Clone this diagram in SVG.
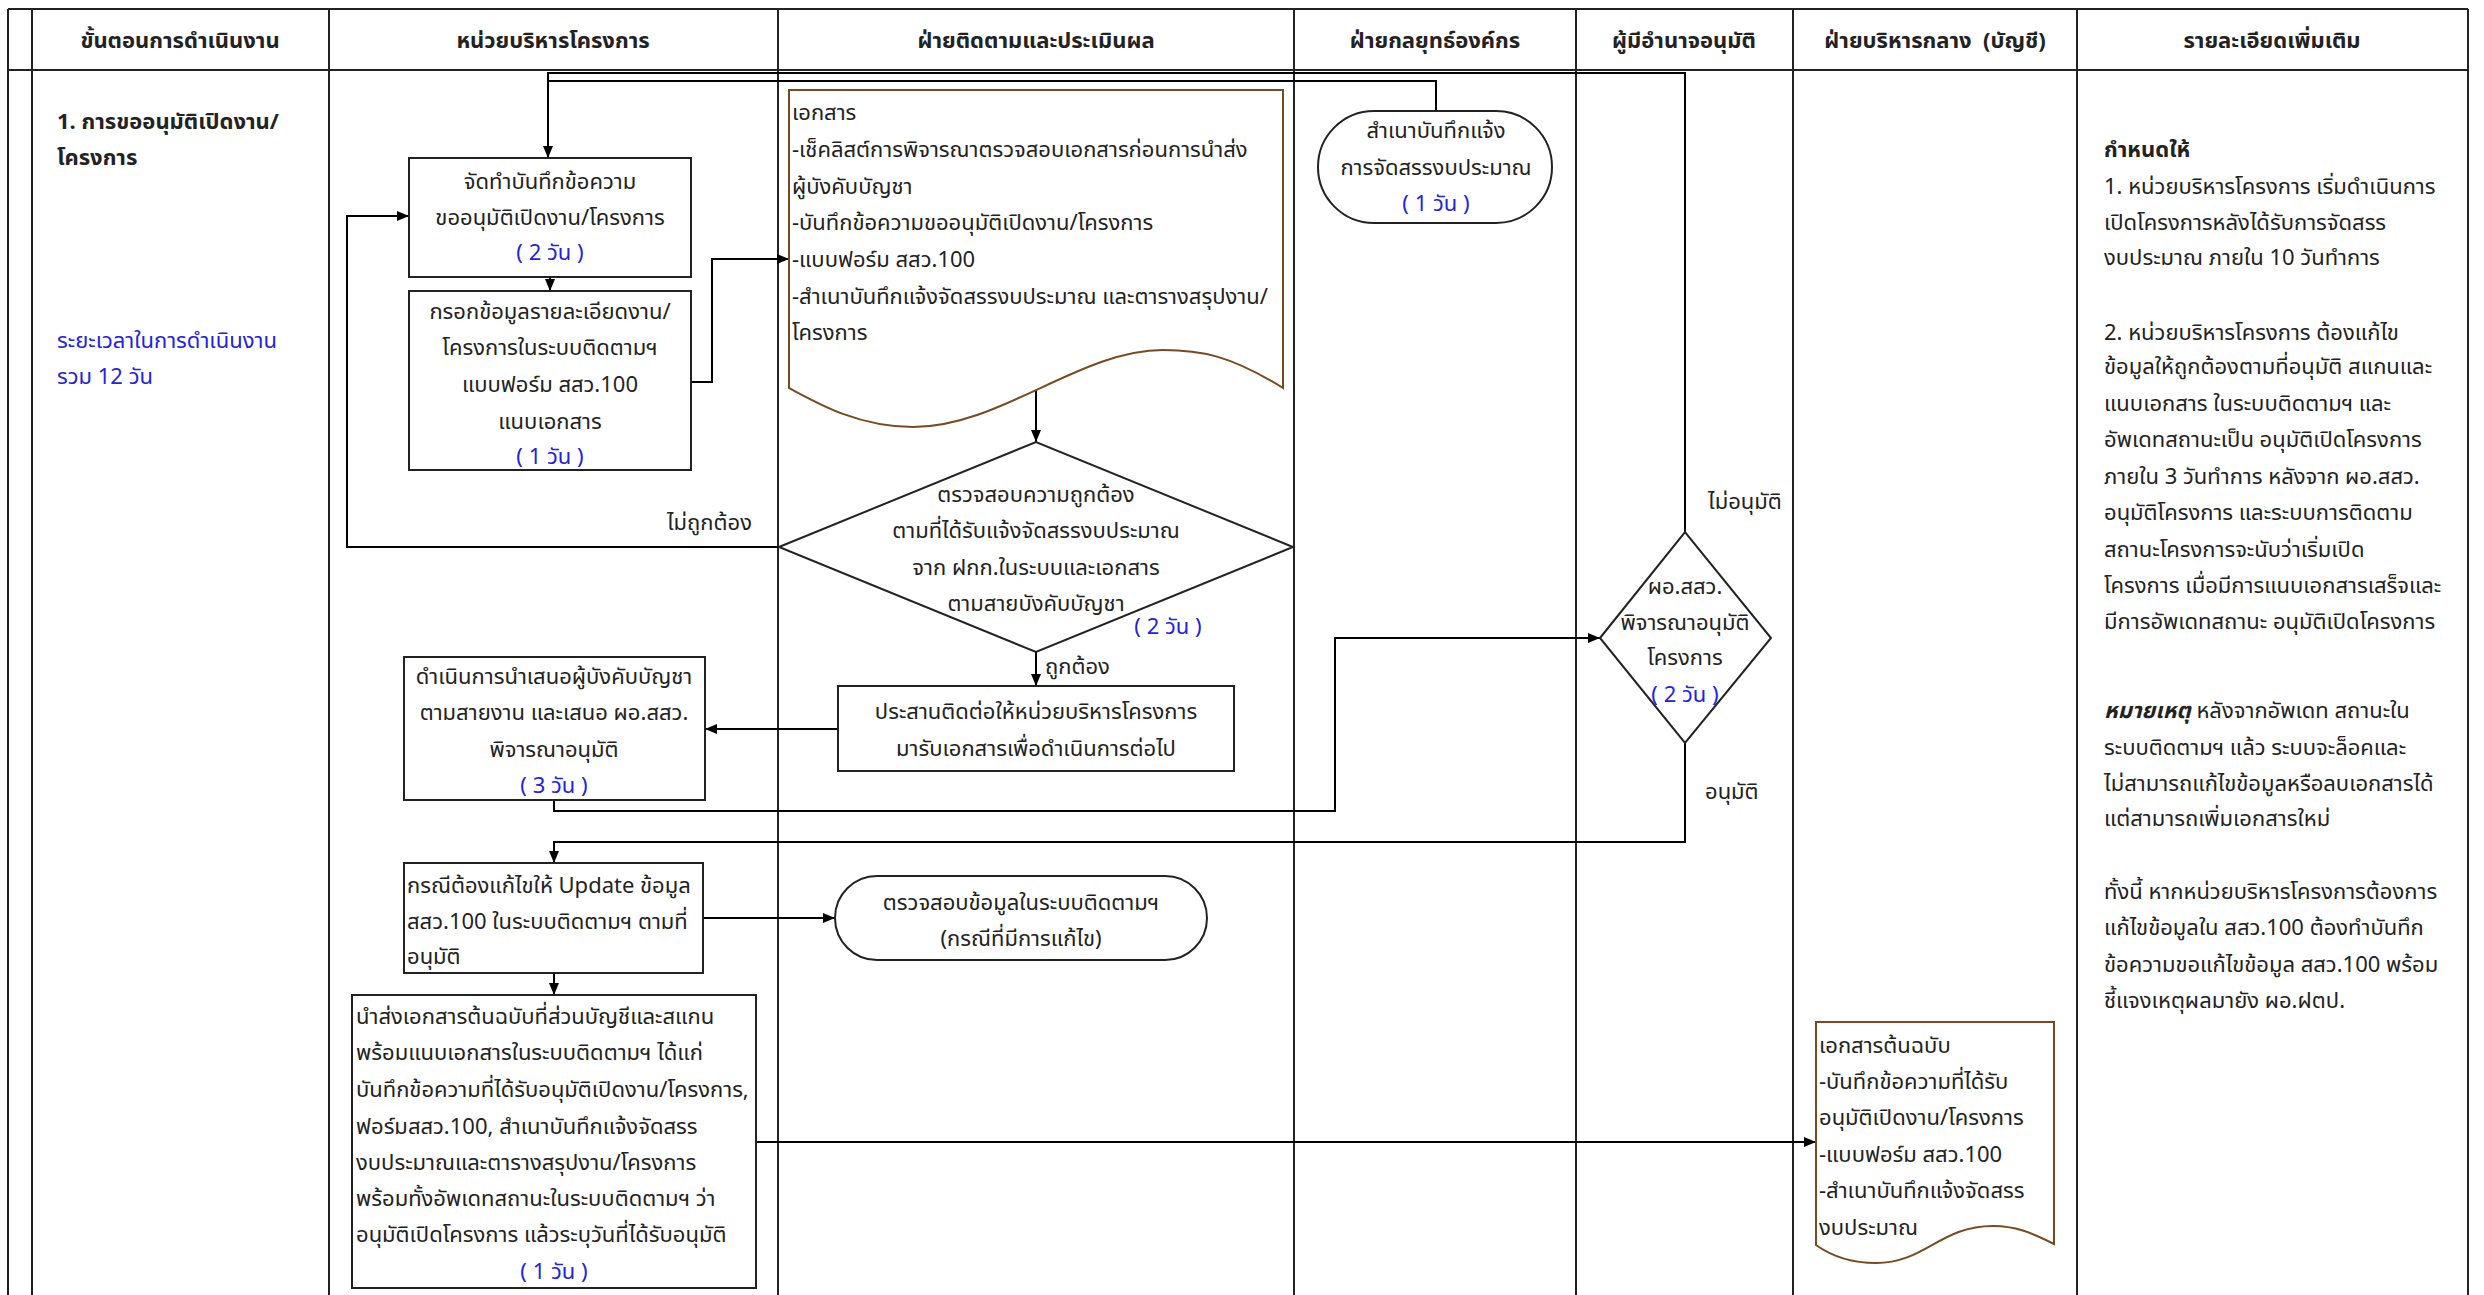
<svg xmlns="http://www.w3.org/2000/svg" width="2484" height="1295" viewBox="0 0 2484 1295">
<style>
.lane{stroke:#222;stroke-width:2;fill:none}
.box{fill:#fff;stroke:#222;stroke-width:2}
.doc{fill:#fff;stroke:#7a4a1f;stroke-width:2}
.conn{stroke:#000;stroke-width:2;fill:none}
text{font-family:"Tahoma","Noto Sans Thai","Loma","Garuda","Noto Sans","DejaVu Sans",sans-serif;font-size:22px;fill:#222}
.c{text-anchor:middle}
.b{font-weight:bold}
.blue{fill:#2323dd}
.hd{font-size:22px;font-weight:bold}
.rt{font-size:22px}
</style>
<defs>
<marker id="arr" markerUnits="userSpaceOnUse" markerWidth="12" markerHeight="10" refX="12" refY="5" orient="auto">
<path d="M0,0 L12,5 L0,10 Z" fill="#000"/>
</marker>
</defs>
<rect width="2484" height="1295" fill="#fff"/>
<g id="table">
<line class="lane" x1="8" y1="9" x2="8" y2="1295"/>
<line class="lane" x1="32" y1="9" x2="32" y2="1295"/>
<line class="lane" x1="8" y1="9" x2="2468" y2="9"/>
<line class="lane" x1="8" y1="70" x2="2468" y2="70"/>
<line class="lane" x1="329" y1="9" x2="329" y2="1295"/>
<line class="lane" x1="778" y1="9" x2="778" y2="1295"/>
<line class="lane" x1="1294" y1="9" x2="1294" y2="1295"/>
<line class="lane" x1="1576" y1="9" x2="1576" y2="1295"/>
<line class="lane" x1="1793" y1="9" x2="1793" y2="1295"/>
<line class="lane" x1="2077" y1="9" x2="2077" y2="1295"/>
<line class="lane" x1="2468" y1="9" x2="2468" y2="1295"/>
<text class="hd c" x="180" y="48">ขั้นตอนการดำเนินงาน</text>
<text class="hd c" x="553" y="48">หน่วยบริหารโครงการ</text>
<text class="hd c" x="1036" y="48">ฝ่ายติดตามและประเมินผล</text>
<text class="hd c" x="1435" y="48">ฝ่ายกลยุทธ์องค์กร</text>
<text class="hd c" x="1684" y="48">ผู้มีอำนาจอนุมัติ</text>
<text class="hd c" x="1935" y="48">ฝ่ายบริหารกลาง&#160; (บัญชี)</text>
<text class="hd c" x="2272" y="48">รายละเอียดเพิ่มเติม</text>
</g>
<g id="step-title">
<text class="b" x="57" y="129">1. การขออนุมัติเปิดงาน/</text>
<text class="b" x="57" y="165">โครงการ</text>
<text class="blue" x="57" y="348">ระยะเวลาในการดำเนินงาน</text>
<text class="blue" x="57" y="384">รวม 12 วัน</text>
</g>
<g id="connectors">
<path class="conn" d="M1685,532 V73 H548 V158" marker-end="url(#arr)"/>
<path class="conn" d="M1436,111 V81 H548"/>
<path class="conn" d="M550,277 V291" marker-end="url(#arr)"/>
<path class="conn" d="M691,382 H712 V259 H789" marker-end="url(#arr)"/>
<path class="conn" d="M1036,388 V442" marker-end="url(#arr)"/>
<path class="conn" d="M779,547 H347 V216 H409" marker-end="url(#arr)"/>
<path class="conn" d="M1036,652 V686" marker-end="url(#arr)"/>
<path class="conn" d="M838,729 H705" marker-end="url(#arr)"/>
<path class="conn" d="M554,800 V811 H1335 V638 H1600" marker-end="url(#arr)"/>
<path class="conn" d="M1685,743 V842 H554 V863" marker-end="url(#arr)"/>
<path class="conn" d="M703,918 H835" marker-end="url(#arr)"/>
<path class="conn" d="M554,973 V995" marker-end="url(#arr)"/>
<path class="conn" d="M756,1142 H1816" marker-end="url(#arr)"/>
<text x="752" y="530" text-anchor="end">ไม่ถูกต้อง</text>
<text x="1045" y="674">ถูกต้อง</text>
<text x="1708" y="509">ไม่อนุมัติ</text>
<text x="1705" y="799">อนุมัติ</text>
</g>
<g id="box1">
<rect class="box" x="409" y="158" width="282" height="119"/>
<text class="c" x="550" y="189">จัดทำบันทึกข้อความ</text>
<text class="c" x="550" y="225">ขออนุมัติเปิดงาน/โครงการ</text>
<text class="c blue" x="550" y="260">( 2 วัน )</text>
</g>
<g id="box2">
<rect class="box" x="409" y="291" width="282" height="179"/>
<text class="c" x="550" y="319">กรอกข้อมูลรายละเอียดงาน/</text>
<text class="c" x="550" y="355">โครงการในระบบติดตามฯ</text>
<text class="c" x="550" y="392">แบบฟอร์ม สสว.100</text>
<text class="c" x="550" y="429">แนบเอกสาร</text>
<text class="c blue" x="550" y="464">( 1 วัน )</text>
</g>
<g id="doc1">
<path class="doc" d="M789,90 H1283 V388 C1230,355 1200,350 1163,350 C1080,350 1000,427 913,427 C860,427 820,405 789,388 Z"/>
<text x="792" y="120">เอกสาร</text>
<text x="792" y="157">-เช็คลิสต์การพิจารณาตรวจสอบเอกสารก่อนการนำส่ง</text>
<text x="792" y="194">ผู้บังคับบัญชา</text>
<text x="792" y="230">-บันทึกข้อความขออนุมัติเปิดงาน/โครงการ</text>
<text x="792" y="267">-แบบฟอร์ม สสว.100</text>
<text x="792" y="304">-สำเนาบันทึกแจ้งจัดสรรงบประมาณ และตารางสรุปงาน/</text>
<text x="792" y="340">โครงการ</text>
</g>
<g id="term1">
<rect class="box" x="1318" y="111" width="234" height="112" rx="56" ry="56"/>
<text class="c" x="1436" y="138">สำเนาบันทึกแจ้ง</text>
<text class="c" x="1436" y="175">การจัดสรรงบประมาณ</text>
<text class="c blue" x="1436" y="211">( 1 วัน )</text>
</g>
<g id="dec1">
<polygon class="box" points="779,547 1036,442 1293,547 1036,652"/>
<text class="c" x="1036" y="502">ตรวจสอบความถูกต้อง</text>
<text class="c" x="1036" y="538">ตามที่ได้รับแจ้งจัดสรรงบประมาณ</text>
<text class="c" x="1036" y="575">จาก ฝกก.ในระบบและเอกสาร</text>
<text class="c" x="1036" y="611">ตามสายบังคับบัญชา</text>
<text class="c blue" x="1168" y="634">( 2 วัน )</text>
</g>
<g id="box3">
<rect class="box" x="838" y="686" width="396" height="85"/>
<text class="c" x="1036" y="719">ประสานติดต่อให้หน่วยบริหารโครงการ</text>
<text class="c" x="1036" y="756">มารับเอกสารเพื่อดำเนินการต่อไป</text>
</g>
<g id="box4">
<rect class="box" x="404" y="657" width="301" height="143"/>
<text class="c" x="554" y="684">ดำเนินการนำเสนอผู้บังคับบัญชา</text>
<text class="c" x="554" y="720">ตามสายงาน และเสนอ ผอ.สสว.</text>
<text class="c" x="554" y="757">พิจารณาอนุมัติ</text>
<text class="c blue" x="554" y="793">( 3 วัน )</text>
</g>
<g id="dec2">
<polygon class="box" points="1600,638 1685,532 1771,638 1685,743"/>
<text class="c" x="1685" y="594">ผอ.สสว.</text>
<text class="c" x="1685" y="630">พิจารณาอนุมัติ</text>
<text class="c" x="1685" y="665">โครงการ</text>
<text class="c blue" x="1685" y="702">( 2 วัน )</text>
</g>
<g id="box5">
<rect class="box" x="404" y="863" width="299" height="110"/>
<text x="407" y="893">กรณีต้องแก้ไขให้ Update ข้อมูล</text>
<text x="407" y="929">สสว.100 ในระบบติดตามฯ ตามที่</text>
<text x="407" y="964">อนุมัติ</text>
</g>
<g id="term2">
<rect class="box" x="835" y="876" width="372" height="84" rx="42" ry="42"/>
<text class="c" x="1021" y="910">ตรวจสอบข้อมูลในระบบติดตามฯ</text>
<text class="c" x="1021" y="946">(กรณีที่มีการแก้ไข)</text>
</g>
<g id="box6">
<rect class="box" x="352" y="995" width="404" height="293"/>
<text x="356" y="1024">นำส่งเอกสารต้นฉบับที่ส่วนบัญชีและสแกน</text>
<text x="356" y="1060">พร้อมแนบเอกสารในระบบติดตามฯ ได้แก่</text>
<text x="356" y="1097">บันทึกข้อความที่ได้รับอนุมัติเปิดงาน/โครงการ,</text>
<text x="356" y="1134">ฟอร์มสสว.100, สำเนาบันทึกแจ้งจัดสรร</text>
<text x="356" y="1170">งบประมาณและตารางสรุปงาน/โครงการ</text>
<text x="356" y="1206">พร้อมทั้งอัพเดทสถานะในระบบติดตามฯ ว่า</text>
<text x="356" y="1242">อนุมัติเปิดโครงการ แล้วระบุวันที่ได้รับอนุมัติ</text>
<text class="c blue" x="554" y="1279">( 1 วัน )</text>
</g>
<g id="doc2">
<path class="doc" d="M1816,1022 H2054 V1244 C2030,1232 2015,1226 1993,1226 C1940,1226 1925,1263 1876,1263 C1850,1263 1830,1255 1816,1245 Z"/>
<text x="1819" y="1053">เอกสารต้นฉบับ</text>
<text x="1819" y="1089">-บันทึกข้อความที่ได้รับ</text>
<text x="1819" y="1125">อนุมัติเปิดงาน/โครงการ</text>
<text x="1819" y="1162">-แบบฟอร์ม สสว.100</text>
<text x="1819" y="1198">-สำเนาบันทึกแจ้งจัดสรร</text>
<text x="1819" y="1235">งบประมาณ</text>
</g>
<g id="notes">
<text class="rt b" x="2104" y="157">กำหนดให้</text>
<text class="rt" x="2104" y="194">1. หน่วยบริหารโครงการ เริ่มดำเนินการ</text>
<text class="rt" x="2104" y="230">เปิดโครงการหลังได้รับการจัดสรร</text>
<text class="rt" x="2104" y="265">งบประมาณ ภายใน 10 วันทำการ</text>
<text class="rt" x="2104" y="340">2. หน่วยบริหารโครงการ ต้องแก้ไข</text>
<text class="rt" x="2104" y="374">ข้อมูลให้ถูกต้องตามที่อนุมัติ สแกนและ</text>
<text class="rt" x="2104" y="411">แนบเอกสาร ในระบบติดตามฯ และ</text>
<text class="rt" x="2104" y="447">อัพเดทสถานะเป็น อนุมัติเปิดโครงการ</text>
<text class="rt" x="2104" y="484">ภายใน 3 วันทำการ หลังจาก ผอ.สสว.</text>
<text class="rt" x="2104" y="520">อนุมัติโครงการ และระบบการติดตาม</text>
<text class="rt" x="2104" y="557">สถานะโครงการจะนับว่าเริ่มเปิด</text>
<text class="rt" x="2104" y="593">โครงการ เมื่อมีการแนบเอกสารเสร็จและ</text>
<text class="rt" x="2104" y="629">มีการอัพเดทสถานะ อนุมัติเปิดโครงการ</text>
<text class="rt" x="2104" y="718"><tspan font-weight="bold" font-style="italic">หมายเหตุ</tspan> หลังจากอัพเดท สถานะใน</text>
<text class="rt" x="2104" y="755">ระบบติดตามฯ แล้ว ระบบจะล็อคและ</text>
<text class="rt" x="2104" y="791">ไม่สามารถแก้ไขข้อมูลหรือลบเอกสารได้</text>
<text class="rt" x="2104" y="826">แต่สามารถเพิ่มเอกสารใหม่</text>
<text class="rt" x="2104" y="899">ทั้งนี้ หากหน่วยบริหารโครงการต้องการ</text>
<text class="rt" x="2104" y="935">แก้ไขข้อมูลใน สสว.100 ต้องทำบันทึก</text>
<text class="rt" x="2104" y="972">ข้อความขอแก้ไขข้อมูล สสว.100 พร้อม</text>
<text class="rt" x="2104" y="1008">ชี้แจงเหตุผลมายัง ผอ.ฝตป.</text>
</g>
</svg>
